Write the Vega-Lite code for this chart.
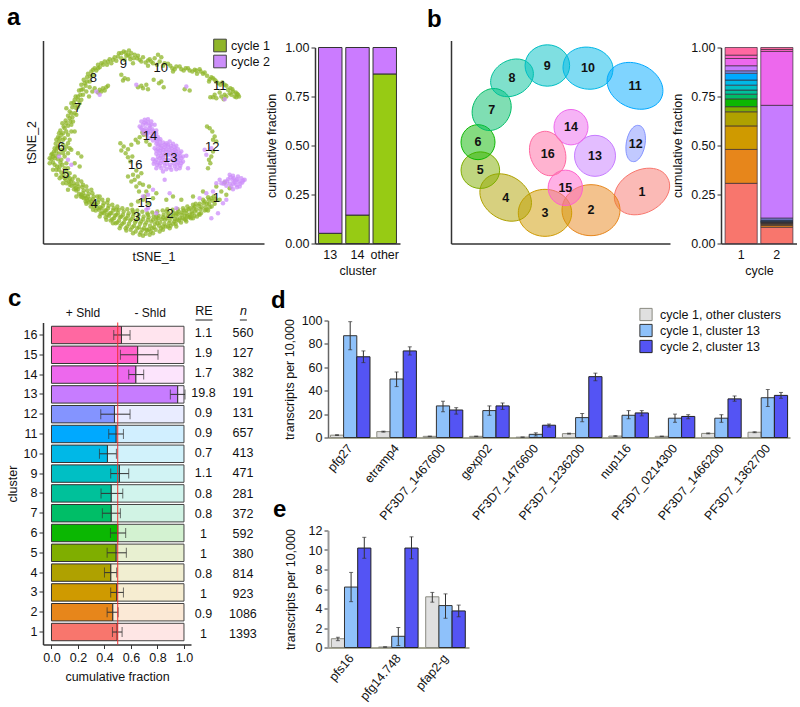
{"$schema":"https://vega.github.io/schema/vega-lite/v6.json","padding":{"left":6,"top":5.5,"right":0,"bottom":0},"bounds":"flush","spacing":280,
"config":{"font":"Liberation Sans","view":{"stroke":null},"axis":{"grid":false,"labelFontSize":12.5,"titleFontSize":12.5,"titleFontWeight":"normal","labelColor":"#111","titleColor":"#111","domainColor":"#333","tickColor":"#333","domainWidth":1.5,"tickSize":4,"labelPadding":2,"labelOverlap":false,"labelFlush":false},"title":{"fontSize":24,"fontWeight":"bold","anchor":"start","frame":"group","color":"#000"},"range":{"category":["#F8766D","#E7861B","#CF9A00","#AFA100","#7FAE00","#0BB702","#00BE67","#00C19A","#00BFC4","#00B8E7","#00A9FF","#8494FF","#C77CFF","#ED68ED","#FF61CC","#FF68A1"]}},
"vconcat":[
{"hconcat":[
{"width":221,"height":203,"title":{"text":"a","dx":-36,"offset":9},
"data":{"values":[{"x":642,"y":590,"c":1},{"x":638,"y":603,"c":1},{"x":645,"y":612,"c":1},{"x":636,"y":620,"c":1},{"x":648,"y":598,"c":1},{"x":628,"y":600,"c":1},{"x":622,"y":612,"c":1},{"x":630,"y":622,"c":1},{"x":620,"y":630,"c":1},{"x":625,"y":592,"c":1},{"x":612,"y":610,"c":1},{"x":606,"y":622,"c":1},{"x":615,"y":632,"c":1},{"x":604,"y":640,"c":1},{"x":610,"y":600,"c":1},{"x":597,"y":618,"c":1},{"x":590,"y":630,"c":1},{"x":598,"y":642,"c":1},{"x":588,"y":612,"c":1},{"x":592,"y":650,"c":1},{"x":582,"y":625,"c":1},{"x":576,"y":636,"c":1},{"x":584,"y":648,"c":1},{"x":574,"y":655,"c":1},{"x":580,"y":615,"c":1},{"x":578,"y":642,"c":1},{"x":567,"y":628,"c":1},{"x":560,"y":640,"c":1},{"x":568,"y":652,"c":1},{"x":558,"y":660,"c":1},{"x":563,"y":620,"c":1},{"x":570,"y":645,"c":1},{"x":552,"y":632,"c":1},{"x":546,"y":645,"c":1},{"x":554,"y":658,"c":1},{"x":544,"y":668,"c":1},{"x":550,"y":625,"c":1},{"x":556,"y":648,"c":1},{"x":537,"y":635,"c":1},{"x":530,"y":648,"c":1},{"x":538,"y":662,"c":1},{"x":528,"y":672,"c":1},{"x":534,"y":628,"c":1},{"x":541,"y":655,"c":1},{"x":522,"y":640,"c":1},{"x":515,"y":652,"c":1},{"x":524,"y":665,"c":1},{"x":513,"y":678,"c":1},{"x":519,"y":630,"c":1},{"x":526,"y":658,"c":1},{"x":507,"y":640,"c":1},{"x":500,"y":655,"c":1},{"x":508,"y":670,"c":1},{"x":498,"y":680,"c":1},{"x":503,"y":628,"c":1},{"x":510,"y":662,"c":1},{"x":492,"y":645,"c":1},{"x":486,"y":658,"c":1},{"x":494,"y":672,"c":1},{"x":484,"y":685,"c":1},{"x":489,"y":632,"c":1},{"x":496,"y":660,"c":1},{"x":477,"y":648,"c":1},{"x":470,"y":660,"c":1},{"x":478,"y":678,"c":1},{"x":468,"y":690,"c":1},{"x":473,"y":635,"c":1},{"x":481,"y":668,"c":1},{"x":462,"y":650,"c":1},{"x":455,"y":665,"c":1},{"x":463,"y":682,"c":1},{"x":453,"y":695,"c":1},{"x":458,"y":638,"c":1},{"x":466,"y":672,"c":1},{"x":447,"y":652,"c":1},{"x":440,"y":668,"c":1},{"x":448,"y":688,"c":1},{"x":438,"y":702,"c":1},{"x":443,"y":640,"c":1},{"x":451,"y":678,"c":1},{"x":432,"y":650,"c":1},{"x":425,"y":665,"c":1},{"x":433,"y":685,"c":1},{"x":423,"y":698,"c":1},{"x":428,"y":636,"c":1},{"x":436,"y":675,"c":1},{"x":417,"y":645,"c":1},{"x":410,"y":662,"c":1},{"x":418,"y":682,"c":1},{"x":408,"y":695,"c":1},{"x":413,"y":632,"c":1},{"x":421,"y":672,"c":1},{"x":402,"y":642,"c":1},{"x":395,"y":658,"c":1},{"x":403,"y":678,"c":1},{"x":393,"y":690,"c":1},{"x":398,"y":630,"c":1},{"x":406,"y":668,"c":1},{"x":387,"y":640,"c":1},{"x":380,"y":655,"c":1},{"x":388,"y":672,"c":1},{"x":378,"y":685,"c":1},{"x":383,"y":628,"c":1},{"x":391,"y":662,"c":1},{"x":372,"y":635,"c":1},{"x":365,"y":650,"c":1},{"x":373,"y":668,"c":1},{"x":363,"y":678,"c":1},{"x":368,"y":625,"c":1},{"x":376,"y":658,"c":1},{"x":357,"y":630,"c":1},{"x":350,"y":645,"c":1},{"x":358,"y":662,"c":1},{"x":348,"y":670,"c":1},{"x":353,"y":620,"c":1},{"x":361,"y":652,"c":1},{"x":342,"y":625,"c":1},{"x":335,"y":640,"c":1},{"x":343,"y":655,"c":1},{"x":333,"y":662,"c":1},{"x":338,"y":615,"c":1},{"x":346,"y":648,"c":1},{"x":327,"y":618,"c":1},{"x":320,"y":632,"c":1},{"x":328,"y":648,"c":1},{"x":318,"y":652,"c":1},{"x":323,"y":608,"c":1},{"x":331,"y":640,"c":1},{"x":312,"y":610,"c":1},{"x":305,"y":625,"c":1},{"x":313,"y":640,"c":1},{"x":303,"y":642,"c":1},{"x":308,"y":600,"c":1},{"x":316,"y":632,"c":1},{"x":297,"y":600,"c":1},{"x":290,"y":615,"c":1},{"x":298,"y":630,"c":1},{"x":288,"y":632,"c":1},{"x":293,"y":590,"c":1},{"x":301,"y":622,"c":1},{"x":282,"y":590,"c":1},{"x":275,"y":605,"c":1},{"x":283,"y":620,"c":1},{"x":273,"y":620,"c":1},{"x":278,"y":580,"c":1},{"x":286,"y":612,"c":1},{"x":267,"y":582,"c":1},{"x":260,"y":595,"c":1},{"x":268,"y":608,"c":1},{"x":258,"y":605,"c":1},{"x":263,"y":572,"c":1},{"x":271,"y":598,"c":1},{"x":252,"y":572,"c":1},{"x":245,"y":585,"c":1},{"x":253,"y":595,"c":1},{"x":243,"y":590,"c":1},{"x":248,"y":562,"c":1},{"x":256,"y":588,"c":1},{"x":237,"y":560,"c":1},{"x":230,"y":572,"c":1},{"x":238,"y":582,"c":1},{"x":228,"y":565,"c":1},{"x":233,"y":552,"c":1},{"x":222,"y":550,"c":1},{"x":215,"y":558,"c":1},{"x":223,"y":568,"c":1},{"x":213,"y":545,"c":1},{"x":218,"y":538,"c":1},{"x":205,"y":530,"c":1},{"x":198,"y":540,"c":1},{"x":208,"y":545,"c":1},{"x":192,"y":525,"c":1},{"x":200,"y":515,"c":1},{"x":185,"y":518,"c":1},{"x":195,"y":505,"c":1},{"x":178,"y":510,"c":1},{"x":188,"y":495,"c":1},{"x":172,"y":500,"c":1},{"x":182,"y":488,"c":1},{"x":165,"y":495,"c":1},{"x":175,"y":478,"c":1},{"x":160,"y":488,"c":1},{"x":168,"y":468,"c":1},{"x":155,"y":478,"c":1},{"x":178,"y":462,"c":1},{"x":163,"y":455,"c":1},{"x":172,"y":445,"c":1},{"x":158,"y":462,"c":1},{"x":185,"y":450,"c":1},{"x":168,"y":432,"c":1},{"x":178,"y":425,"c":1},{"x":190,"y":435,"c":1},{"x":175,"y":412,"c":1},{"x":185,"y":405,"c":1},{"x":170,"y":420,"c":1},{"x":195,"y":415,"c":1},{"x":182,"y":392,"c":1},{"x":192,"y":380,"c":1},{"x":200,"y":395,"c":1},{"x":188,"y":370,"c":1},{"x":205,"y":378,"c":1},{"x":198,"y":362,"c":1},{"x":212,"y":365,"c":1},{"x":205,"y":348,"c":1},{"x":218,"y":352,"c":1},{"x":210,"y":335,"c":1},{"x":225,"y":340,"c":1},{"x":200,"y":325,"c":1},{"x":218,"y":322,"c":1},{"x":230,"y":325,"c":1},{"x":222,"y":308,"c":1},{"x":235,"y":300,"c":1},{"x":228,"y":290,"c":1},{"x":242,"y":285,"c":1},{"x":238,"y":272,"c":1},{"x":250,"y":268,"c":1},{"x":245,"y":255,"c":1},{"x":258,"y":258,"c":1},{"x":252,"y":240,"c":1},{"x":262,"y":232,"c":1},{"x":270,"y":245,"c":1},{"x":265,"y":222,"c":1},{"x":275,"y":215,"c":1},{"x":280,"y":225,"c":1},{"x":285,"y":205,"c":1},{"x":295,"y":195,"c":1},{"x":290,"y":212,"c":1},{"x":305,"y":190,"c":1},{"x":300,"y":202,"c":1},{"x":315,"y":185,"c":1},{"x":322,"y":195,"c":1},{"x":330,"y":178,"c":1},{"x":335,"y":190,"c":1},{"x":345,"y":172,"c":1},{"x":350,"y":183,"c":1},{"x":358,"y":160,"c":1},{"x":365,"y":175,"c":1},{"x":372,"y":155,"c":1},{"x":380,"y":168,"c":1},{"x":388,"y":152,"c":1},{"x":395,"y":160,"c":1},{"x":392,"y":178,"c":1},{"x":405,"y":165,"c":1},{"x":412,"y":175,"c":1},{"x":400,"y":190,"c":1},{"x":420,"y":180,"c":1},{"x":430,"y":172,"c":1},{"x":438,"y":188,"c":1},{"x":450,"y":178,"c":1},{"x":460,"y":190,"c":1},{"x":445,"y":198,"c":1},{"x":475,"y":165,"c":1},{"x":485,"y":172,"c":1},{"x":472,"y":195,"c":1},{"x":490,"y":198,"c":1},{"x":505,"y":192,"c":1},{"x":518,"y":205,"c":1},{"x":530,"y":200,"c":1},{"x":545,"y":208,"c":1},{"x":558,"y":205,"c":1},{"x":570,"y":212,"c":1},{"x":585,"y":210,"c":1},{"x":600,"y":208,"c":1},{"x":592,"y":222,"c":1},{"x":610,"y":222,"c":1},{"x":622,"y":228,"c":1},{"x":635,"y":232,"c":1},{"x":628,"y":245,"c":1},{"x":645,"y":240,"c":1},{"x":655,"y":250,"c":1},{"x":668,"y":248,"c":1},{"x":680,"y":258,"c":1},{"x":692,"y":265,"c":1},{"x":700,"y":275,"c":1},{"x":712,"y":282,"c":1},{"x":718,"y":290,"c":1},{"x":705,"y":290,"c":1},{"x":690,"y":280,"c":1},{"x":675,"y":285,"c":1},{"x":660,"y":278,"c":1},{"x":645,"y":285,"c":1},{"x":632,"y":292,"c":1},{"x":650,"y":295,"c":1},{"x":672,"y":298,"c":1},{"x":300,"y":270,"c":1},{"x":310,"y":265,"c":1},{"x":320,"y":262,"c":1},{"x":295,"y":278,"c":1},{"x":305,"y":275,"c":1},{"x":325,"y":258,"c":1},{"x":315,"y":272,"c":1},{"x":285,"y":265,"c":1},{"x":278,"y":275,"c":1},{"x":268,"y":290,"c":1},{"x":365,"y":225,"c":1},{"x":375,"y":235,"c":1},{"x":385,"y":238,"c":1},{"x":370,"y":242,"c":1},{"x":415,"y":262,"c":1},{"x":430,"y":265,"c":1},{"x":445,"y":268,"c":1},{"x":425,"y":258,"c":1},{"x":440,"y":255,"c":1},{"x":462,"y":240,"c":1},{"x":478,"y":250,"c":1},{"x":492,"y":262,"c":1},{"x":485,"y":245,"c":1},{"x":555,"y":268,"c":1},{"x":570,"y":272,"c":1},{"x":520,"y":215,"c":1},{"x":235,"y":460,"c":1},{"x":245,"y":470,"c":1},{"x":225,"y":490,"c":1},{"x":215,"y":450,"c":1},{"x":240,"y":500,"c":1},{"x":150,"y":490,"c":1},{"x":160,"y":510,"c":1},{"x":170,"y":525,"c":1},{"x":180,"y":535,"c":1},{"x":190,"y":550,"c":1},{"x":205,"y":570,"c":1},{"x":230,"y":590,"c":1},{"x":210,"y":445,"c":1},{"x":225,"y":395,"c":1},{"x":362,"y":430,"c":1},{"x":372,"y":440,"c":1},{"x":365,"y":452,"c":1},{"x":378,"y":460,"c":1},{"x":385,"y":472,"c":1},{"x":392,"y":485,"c":1},{"x":398,"y":470,"c":1},{"x":410,"y":512,"c":1},{"x":400,"y":525,"c":1},{"x":415,"y":530,"c":1},{"x":425,"y":520,"c":1},{"x":405,"y":540,"c":1},{"x":395,"y":545,"c":1},{"x":420,"y":550,"c":1},{"x":410,"y":560,"c":1},{"x":430,"y":555,"c":1},{"x":440,"y":575,"c":1},{"x":418,"y":575,"c":1},{"x":435,"y":590,"c":1},{"x":448,"y":560,"c":1},{"x":385,"y":530,"c":1},{"x":408,"y":420,"c":1},{"x":420,"y":412,"c":1},{"x":432,"y":405,"c":1},{"x":415,"y":428,"c":1},{"x":395,"y":435,"c":1},{"x":385,"y":448,"c":1},{"x":440,"y":425,"c":1},{"x":450,"y":435,"c":1},{"x":428,"y":398,"c":1},{"x":622,"y":380,"c":1},{"x":630,"y":385,"c":1},{"x":638,"y":395,"c":1},{"x":645,"y":410,"c":1},{"x":640,"y":420,"c":1},{"x":650,"y":425,"c":1},{"x":635,"y":470,"c":1},{"x":628,"y":480,"c":1},{"x":632,"y":490,"c":1},{"x":625,"y":505,"c":1},{"x":640,"y":455,"c":1},{"x":470,"y":580,"c":1},{"x":460,"y":595,"c":1},{"x":445,"y":610,"c":1},{"x":430,"y":600,"c":1},{"x":415,"y":605,"c":1},{"x":395,"y":615,"c":1},{"x":500,"y":600,"c":1},{"x":520,"y":590,"c":1},{"x":545,"y":600,"c":1},{"x":580,"y":590,"c":1},{"x":610,"y":575,"c":1},{"x":650,"y":560,"c":1},{"x":675,"y":548,"c":1},{"x":665,"y":575,"c":1},{"x":690,"y":565,"c":1},{"x":680,"y":585,"c":1},{"x":660,"y":600,"c":1},{"x":635,"y":595,"c":1},{"x":628,"y":612,"c":1},{"x":615,"y":605,"c":1},{"x":618,"y":622,"c":1},{"x":600,"y":612,"c":1},{"x":602,"y":628,"c":1},{"x":585,"y":620,"c":1},{"x":586,"y":635,"c":1},{"x":572,"y":625,"c":1},{"x":572,"y":650,"c":1},{"x":560,"y":632,"c":1},{"x":562,"y":650,"c":1},{"x":548,"y":638,"c":1},{"x":548,"y":655,"c":1},{"x":535,"y":642,"c":1},{"x":533,"y":660,"c":1},{"x":520,"y":648,"c":1},{"x":520,"y":672,"c":1},{"x":505,"y":648,"c":1},{"x":505,"y":680,"c":1},{"x":490,"y":652,"c":1},{"x":490,"y":680,"c":1},{"x":475,"y":655,"c":1},{"x":473,"y":670,"c":1},{"x":460,"y":660,"c":1},{"x":458,"y":685,"c":1},{"x":445,"y":660,"c":1},{"x":443,"y":692,"c":1},{"x":430,"y":658,"c":1},{"x":428,"y":690,"c":1},{"x":415,"y":655,"c":1},{"x":413,"y":685,"c":1},{"x":400,"y":650,"c":1},{"x":398,"y":682,"c":1},{"x":385,"y":648,"c":1},{"x":383,"y":680,"c":1},{"x":370,"y":645,"c":1},{"x":368,"y":672,"c":1},{"x":355,"y":640,"c":1},{"x":353,"y":668,"c":1},{"x":340,"y":632,"c":1},{"x":338,"y":658,"c":1},{"x":325,"y":625,"c":1},{"x":323,"y":645,"c":1},{"x":310,"y":618,"c":1},{"x":308,"y":638,"c":1},{"x":295,"y":608,"c":1},{"x":293,"y":625,"c":1},{"x":280,"y":598,"c":1},{"x":278,"y":612,"c":1},{"x":265,"y":590,"c":1},{"x":263,"y":602,"c":1},{"x":250,"y":580,"c":1},{"x":248,"y":592,"c":1},{"x":235,"y":568,"c":1},{"x":225,"y":558,"c":1},{"x":210,"y":535,"c":1},{"x":480,"y":695,"c":1},{"x":460,"y":700,"c":1},{"x":440,"y":690,"c":1},{"x":420,"y":705,"c":1},{"x":400,"y":700,"c":1},{"x":430,"y":708,"c":1},{"x":450,"y":705,"c":1},{"x":490,"y":690,"c":1},{"x":510,"y":685,"c":1},{"x":530,"y":680,"c":1},{"x":380,"y":692,"c":1},{"x":360,"y":685,"c":1},{"x":340,"y":670,"c":1},{"x":320,"y":660,"c":1},{"x":560,"y":665,"c":1},{"x":580,"y":655,"c":1},{"x":600,"y":645,"c":1},{"x":625,"y":632,"c":1},{"x":300,"y":650,"c":1},{"x":280,"y":630,"c":1},{"x":260,"y":612,"c":1},{"x":445,"y":645,"c":1},{"x":470,"y":650,"c":1},{"x":500,"y":635,"c":1},{"x":530,"y":640,"c":1},{"x":400,"y":635,"c":1},{"x":350,"y":630,"c":1},{"x":325,"y":600,"c":1},{"x":300,"y":590,"c":1},{"x":275,"y":570,"c":1},{"x":250,"y":555,"c":1},{"x":170,"y":510,"c":1},{"x":180,"y":500,"c":1},{"x":165,"y":475,"c":1},{"x":170,"y":455,"c":1},{"x":160,"y":470,"c":1},{"x":175,"y":440,"c":1},{"x":165,"y":445,"c":1},{"x":180,"y":415,"c":1},{"x":190,"y":400,"c":1},{"x":178,"y":400,"c":1},{"x":195,"y":385,"c":1},{"x":210,"y":355,"c":1},{"x":200,"y":370,"c":1},{"x":215,"y":340,"c":1},{"x":225,"y":315,"c":1},{"x":215,"y":310,"c":1},{"x":235,"y":290,"c":1},{"x":225,"y":300,"c":1},{"x":245,"y":270,"c":1},{"x":255,"y":250,"c":1},{"x":262,"y":245,"c":1},{"x":272,"y":230,"c":1},{"x":280,"y":210,"c":1},{"x":295,"y":205,"c":1},{"x":310,"y":195,"c":1},{"x":325,"y":185,"c":1},{"x":340,"y":180,"c":1},{"x":355,"y":170,"c":1},{"x":365,"y":160,"c":1},{"x":378,"y":158,"c":1},{"x":385,"y":165,"c":1},{"x":375,"y":180,"c":1},{"x":390,"y":170,"c":1},{"x":402,"y":175,"c":1},{"x":415,"y":168,"c":1},{"x":425,"y":185,"c":1},{"x":445,"y":182,"c":1},{"x":455,"y":185,"c":1},{"x":465,"y":175,"c":1},{"x":480,"y":185,"c":1},{"x":495,"y":190,"c":1},{"x":512,"y":198,"c":1},{"x":525,"y":208,"c":1},{"x":540,"y":200,"c":1},{"x":552,"y":212,"c":1},{"x":565,"y":205,"c":1},{"x":578,"y":215,"c":1},{"x":590,"y":212,"c":1},{"x":603,"y":215,"c":1},{"x":615,"y":218,"c":1},{"x":630,"y":238,"c":1},{"x":640,"y":235,"c":1},{"x":650,"y":245,"c":1},{"x":662,"y":255,"c":1},{"x":675,"y":255,"c":1},{"x":685,"y":270,"c":1},{"x":698,"y":268,"c":1},{"x":708,"y":278,"c":1},{"x":715,"y":285,"c":1},{"x":695,"y":285,"c":1},{"x":680,"y":290,"c":1},{"x":665,"y":290,"c":1},{"x":640,"y":292,"c":1},{"x":710,"y":292,"c":1},{"x":185,"y":530,"c":1},{"x":195,"y":535,"c":1},{"x":210,"y":555,"c":1},{"x":200,"y":550,"c":1},{"x":195,"y":470,"c":1},{"x":190,"y":460,"c":1},{"x":155,"y":465,"c":1},{"x":150,"y":475,"c":1},{"x":205,"y":405,"c":1},{"x":215,"y":395,"c":1},{"x":200,"y":440,"c":1},{"x":205,"y":460,"c":1},{"x":195,"y":450,"c":1},{"x":210,"y":420,"c":1},{"x":205,"y":430,"c":1},{"x":190,"y":420,"c":1},{"x":215,"y":375,"c":1},{"x":220,"y":365,"c":1},{"x":230,"y":345,"c":1},{"x":240,"y":310,"c":1},{"x":245,"y":300,"c":1},{"x":235,"y":320,"c":1},{"x":250,"y":285,"c":1},{"x":260,"y":275,"c":1},{"x":270,"y":262,"c":1},{"x":185,"y":480,"c":1},{"x":200,"y":490,"c":1},{"x":205,"y":505,"c":1},{"x":210,"y":520,"c":1},{"x":225,"y":530,"c":1},{"x":235,"y":540,"c":1},{"x":245,"y":545,"c":1},{"x":260,"y":560,"c":1},{"x":425,"y":365,"c":2},{"x":435,"y":360,"c":2},{"x":445,"y":358,"c":2},{"x":455,"y":365,"c":2},{"x":465,"y":375,"c":2},{"x":430,"y":375,"c":2},{"x":440,"y":372,"c":2},{"x":450,"y":378,"c":2},{"x":420,"y":380,"c":2},{"x":428,"y":390,"c":2},{"x":438,"y":385,"c":2},{"x":448,"y":392,"c":2},{"x":458,"y":388,"c":2},{"x":470,"y":392,"c":2},{"x":432,"y":400,"c":2},{"x":442,"y":405,"c":2},{"x":455,"y":402,"c":2},{"x":465,"y":410,"c":2},{"x":475,"y":412,"c":2},{"x":450,"y":415,"c":2},{"x":460,"y":422,"c":2},{"x":472,"y":425,"c":2},{"x":482,"y":418,"c":2},{"x":470,"y":432,"c":2},{"x":480,"y":435,"c":2},{"x":490,"y":428,"c":2},{"x":500,"y":430,"c":2},{"x":510,"y":425,"c":2},{"x":520,"y":432,"c":2},{"x":530,"y":438,"c":2},{"x":465,"y":445,"c":2},{"x":475,"y":448,"c":2},{"x":485,"y":445,"c":2},{"x":495,"y":442,"c":2},{"x":505,"y":440,"c":2},{"x":515,"y":445,"c":2},{"x":525,"y":450,"c":2},{"x":535,"y":448,"c":2},{"x":545,"y":455,"c":2},{"x":470,"y":462,"c":2},{"x":480,"y":460,"c":2},{"x":490,"y":458,"c":2},{"x":500,"y":455,"c":2},{"x":510,"y":458,"c":2},{"x":520,"y":462,"c":2},{"x":530,"y":462,"c":2},{"x":540,"y":468,"c":2},{"x":550,"y":470,"c":2},{"x":460,"y":478,"c":2},{"x":470,"y":480,"c":2},{"x":480,"y":475,"c":2},{"x":490,"y":472,"c":2},{"x":530,"y":478,"c":2},{"x":540,"y":482,"c":2},{"x":550,"y":485,"c":2},{"x":462,"y":492,"c":2},{"x":472,"y":495,"c":2},{"x":482,"y":490,"c":2},{"x":492,"y":488,"c":2},{"x":502,"y":492,"c":2},{"x":512,"y":495,"c":2},{"x":522,"y":490,"c":2},{"x":532,"y":495,"c":2},{"x":542,"y":498,"c":2},{"x":470,"y":505,"c":2},{"x":485,"y":505,"c":2},{"x":500,"y":508,"c":2},{"x":515,"y":510,"c":2},{"x":530,"y":508,"c":2},{"x":560,"y":468,"c":2},{"x":565,"y":505,"c":2},{"x":495,"y":540,"c":2},{"x":735,"y":540,"c":2},{"x":725,"y":535,"c":2},{"x":715,"y":530,"c":2},{"x":700,"y":528,"c":2},{"x":690,"y":525,"c":2},{"x":728,"y":548,"c":2},{"x":718,"y":545,"c":2},{"x":708,"y":542,"c":2},{"x":698,"y":540,"c":2},{"x":685,"y":538,"c":2},{"x":675,"y":545,"c":2},{"x":720,"y":560,"c":2},{"x":710,"y":555,"c":2},{"x":700,"y":552,"c":2},{"x":690,"y":552,"c":2},{"x":680,"y":558,"c":2},{"x":665,"y":550,"c":2},{"x":700,"y":568,"c":2},{"x":660,"y":540,"c":2},{"x":650,"y":550,"c":2},{"x":680,"y":600,"c":2},{"x":670,"y":610,"c":2},{"x":640,"y":575,"c":2},{"x":620,"y":580,"c":2},{"x":600,"y":595,"c":2},{"x":510,"y":580,"c":2},{"x":430,"y":590,"c":2},{"x":445,"y":585,"c":2},{"x":460,"y":570,"c":2},{"x":620,"y":465,"c":2},{"x":615,"y":450,"c":2},{"x":635,"y":445,"c":2},{"x":300,"y":285,"c":2},{"x":290,"y":275,"c":2},{"x":205,"y":480,"c":2},{"x":215,"y":495,"c":2},{"x":178,"y":470,"c":2},{"x":445,"y":625,"c":2},{"x":470,"y":640,"c":2},{"x":655,"y":640,"c":2},{"x":635,"y":655,"c":2},{"x":410,"y":255,"c":2},{"x":675,"y":298,"c":2},{"x":560,"y":260,"c":2},{"x":440,"y":630,"c":2},{"x":530,"y":625,"c":2},{"x":435,"y":368,"c":2},{"x":445,"y":368,"c":2},{"x":455,"y":375,"c":2},{"x":425,"y":385,"c":2},{"x":435,"y":393,"c":2},{"x":445,"y":398,"c":2},{"x":460,"y":395,"c":2},{"x":470,"y":402,"c":2},{"x":440,"y":395,"c":2},{"x":450,"y":385,"c":2},{"x":460,"y":410,"c":2},{"x":470,"y":418,"c":2},{"x":480,"y":425,"c":2},{"x":475,"y":438,"c":2},{"x":485,"y":438,"c":2},{"x":495,"y":435,"c":2},{"x":505,"y":435,"c":2},{"x":515,"y":438,"c":2},{"x":525,"y":442,"c":2},{"x":470,"y":452,"c":2},{"x":480,"y":452,"c":2},{"x":490,"y":450,"c":2},{"x":500,"y":448,"c":2},{"x":510,"y":450,"c":2},{"x":520,"y":455,"c":2},{"x":530,"y":455,"c":2},{"x":540,"y":460,"c":2},{"x":475,"y":470,"c":2},{"x":485,"y":468,"c":2},{"x":495,"y":465,"c":2},{"x":505,"y":465,"c":2},{"x":515,"y":468,"c":2},{"x":525,"y":470,"c":2},{"x":535,"y":472,"c":2},{"x":545,"y":475,"c":2},{"x":465,"y":485,"c":2},{"x":475,"y":488,"c":2},{"x":485,"y":482,"c":2},{"x":495,"y":480,"c":2},{"x":505,"y":480,"c":2},{"x":515,"y":480,"c":2},{"x":525,"y":482,"c":2},{"x":535,"y":488,"c":2},{"x":545,"y":490,"c":2},{"x":480,"y":498,"c":2},{"x":495,"y":498,"c":2},{"x":510,"y":502,"c":2},{"x":525,"y":500,"c":2},{"x":540,"y":505,"c":2},{"x":490,"y":515,"c":2},{"x":730,"y":542,"c":2},{"x":722,"y":552,"c":2},{"x":712,"y":538,"c":2},{"x":702,"y":535,"c":2},{"x":692,"y":532,"c":2},{"x":682,"y":545,"c":2},{"x":672,"y":552,"c":2},{"x":712,"y":562,"c":2},{"x":695,"y":560,"c":2},{"x":705,"y":548,"c":2}]},
"layer":[
{"mark":{"type":"circle","size":20,"opacity":0.75},
"encoding":{"x":{"field":"x","type":"quantitative","scale":{"domain":[130,793],"nice":false,"zero":false},"axis":{"title":"tSNE_1","labels":false,"ticks":false,"titlePadding":7}},
"y":{"field":"y","type":"quantitative","scale":{"domain":[731,122],"nice":false,"zero":false},"axis":{"title":"tSNE_2","labels":false,"ticks":false,"titlePadding":5}},
"color":{"field":"c","type":"nominal","scale":{"domain":[1,2],"range":["#8FB52A","#CC8EFA"]},"legend":{"orient":"none","legendX":170,"legendY":-2,"title":null,"symbolType":"square","symbolSize":160,"symbolOpacity":1,"symbolStrokeColor":"#444","symbolStrokeWidth":1,"labelFontSize":12.5,"labelColor":"#111","rowPadding":-3,"labelExpr":"'cycle ' + datum.label"}}}},
{"data":{"values":[{"k":"1","x":650,"y":595},{"k":"2","x":511,"y":642},{"k":"3","x":411,"y":652},{"k":"4","x":283,"y":613},{"k":"5","x":198,"y":522},{"k":"6","x":184,"y":441},{"k":"7","x":234,"y":323},{"k":"8","x":281,"y":235},{"k":"9","x":371,"y":193},{"k":"10","x":483,"y":204},{"k":"11","x":660,"y":258},{"k":"12","x":638,"y":441},{"k":"13","x":512,"y":473},{"k":"14","x":451,"y":408},{"k":"15","x":435,"y":610},{"k":"16","x":407,"y":494}]},
"mark":{"type":"text","fontSize":13,"color":"#111"},
"encoding":{"x":{"field":"x","type":"quantitative"},"y":{"field":"y","type":"quantitative"},"text":{"field":"k"}}}
]},
{"width":85,"height":203,
"data":{"values":[{"g":"13","c":"cycle 1","v":0.052},{"g":"13","c":"cycle 2","v":0.948},{"g":"14","c":"cycle 1","v":0.145},{"g":"14","c":"cycle 2","v":0.855},{"g":"other","c":"cycle 1","v":0.865},{"g":"other","c":"cycle 2","v":0.135}]},
"mark":{"type":"bar","stroke":"#333","strokeWidth":1},
"encoding":{"x":{"field":"g","type":"nominal","title":"cluster","scale":{"paddingInner":0.14,"paddingOuter":0.13},"axis":{"labelAngle":0,"ticks":false,"labelPadding":5,"titlePadding":3}},
"y":{"field":"v","type":"quantitative","stack":true,"title":"cumulative fraction","scale":{"domain":[0,1],"nice":false,"range":[203,7]},"axis":{"values":[0,0.25,0.5,0.75,1],"tickCount":10,"format":".2f","titlePadding":6}},
"color":{"field":"c","type":"nominal","legend":null,"scale":{"domain":["cycle 1","cycle 2"],"range":["#97CB14","#CB7BFF"]}},
"order":{"field":"c","type":"nominal"}}},
{"width":219,"height":203,"title":{"text":"b","dx":-24,"offset":9},
"data":{"values":[{"cluster":1,"x":675,"y":575},{"cluster":2,"x":522,"y":631},{"cluster":3,"x":384,"y":639},{"cluster":4,"x":266,"y":593},{"cluster":5,"x":190,"y":511},{"cluster":6,"x":183,"y":427},{"cluster":7,"x":224,"y":329},{"cluster":8,"x":285,"y":234},{"cluster":9,"x":391,"y":197},{"cluster":10,"x":513,"y":205},{"cluster":11,"x":654,"y":258},{"cluster":12,"x":656,"y":431},{"cluster":13,"x":534,"y":468},{"cluster":14,"x":462,"y":382},{"cluster":15,"x":445,"y":564},{"cluster":16,"x":392,"y":461}]},
"layer":[
{"mark":{"type":"point","filled":true,"fillOpacity":0.5,"strokeOpacity":1,"strokeWidth":1,"size":4},
"encoding":{"x":{"field":"x","type":"quantitative","scale":{"domain":[102,759],"nice":false,"zero":false},"axis":{"title":null,"labels":false,"ticks":false}},
"y":{"field":"y","type":"quantitative","scale":{"domain":[731,122],"nice":false,"zero":false},"axis":{"title":null,"labels":false,"ticks":false}},
"fill":{"field":"cluster","type":"nominal","legend":null},
"stroke":{"field":"cluster","type":"nominal","legend":null},
"shape":{"field":"cluster","type":"nominal","legend":null,"scale":{"domain":[1,2,3,4,5,6,7,8,9,10,11,12,13,14,15,16],"range":["M-25.6,13.6A29,20.7,-28,1,1,25.6,-13.6A29,20.7,-28,1,1,-25.6,13.6Z","M-29,0A29,25.5,0,1,1,29,0A29,25.5,0,1,1,-29,0Z","M-26.7,0A26.7,23.5,0,1,1,26.7,0A26.7,23.5,0,1,1,-26.7,0Z","M-22.5,-15.8A27.5,21,35,1,1,22.5,15.8A27.5,21,35,1,1,-22.5,-15.8Z","M-19.3,0A19.3,18.3,0,1,1,19.3,0A19.3,18.3,0,1,1,-19.3,0Z","M-17,0A17,17.5,0,1,1,17,0A17,17.5,0,1,1,-17,0Z","M-10.75,18.6A21.5,18,-60,1,1,10.75,-18.6A21.5,18,-60,1,1,-10.75,18.6Z","M-19.5,11.25A22.5,17.5,-30,1,1,19.5,-11.25A22.5,17.5,-30,1,1,-19.5,11.25Z","M-22.3,0A22.3,20.7,0,1,1,22.3,0A22.3,20.7,0,1,1,-22.3,0Z","M-24.6,-4.3A25,20,10,1,1,24.6,4.3A25,20,10,1,1,-24.6,-4.3Z","M-26.3,-12.3A29,22,25,1,1,26.3,12.3A29,22,25,1,1,-26.3,-12.3Z","M-3.2,18A18.3,9,-80,1,1,3.2,-18A18.3,9,-80,1,1,-3.2,18Z","M-20.5,0A20.5,20.5,0,1,1,20.5,0A20.5,20.5,0,1,1,-20.5,0Z","M-17,0A17,17.7,0,1,1,17,0A17,17.7,0,1,1,-17,0Z","M-17.2,0A17.2,17.7,0,1,1,17.2,0A17.2,17.7,0,1,1,-17.2,0Z","M-7.7,-21.1A22.5,16.5,70,1,1,7.7,21.1A22.5,16.5,70,1,1,-7.7,-21.1Z"]}}}},
{"mark":{"type":"text","fontSize":12.5,"fontWeight":"bold","color":"#111"},
"encoding":{"x":{"field":"x","type":"quantitative"},"y":{"field":"y","type":"quantitative"},"text":{"field":"cluster"}}}
]},
{"width":76,"height":203,
"data":{"values":[{"cycle":"1","cluster":1,"v":0.307},{"cycle":"1","cluster":2,"v":0.173},{"cycle":"1","cluster":3,"v":0.12},{"cycle":"1","cluster":4,"v":0.072},{"cycle":"1","cluster":5,"v":0.026},{"cycle":"1","cluster":6,"v":0.04},{"cycle":"1","cluster":7,"v":0.024},{"cycle":"1","cluster":8,"v":0.021},{"cycle":"1","cluster":9,"v":0.025},{"cycle":"1","cluster":10,"v":0.026},{"cycle":"1","cluster":11,"v":0.035},{"cycle":"1","cluster":12,"v":0.012},{"cycle":"1","cluster":13,"v":0.026},{"cycle":"1","cluster":14,"v":0.037},{"cycle":"1","cluster":15,"v":0.017},{"cycle":"1","cluster":16,"v":0.039},{"cycle":"2","cluster":1,"v":0.083},{"cycle":"2","cluster":2,"v":0.009},{"cycle":"2","cluster":3,"v":0.005},{"cycle":"2","cluster":4,"v":0.005},{"cycle":"2","cluster":5,"v":0.003},{"cycle":"2","cluster":6,"v":0.003},{"cycle":"2","cluster":7,"v":0.002},{"cycle":"2","cluster":8,"v":0.002},{"cycle":"2","cluster":9,"v":0.002},{"cycle":"2","cluster":10,"v":0.002},{"cycle":"2","cluster":11,"v":0.004},{"cycle":"2","cluster":12,"v":0.01},{"cycle":"2","cluster":13,"v":0.575},{"cycle":"2","cluster":14,"v":0.275},{"cycle":"2","cluster":15,"v":0.01},{"cycle":"2","cluster":16,"v":0.01}]},
"mark":{"type":"bar","stroke":"#3a2a3a","strokeWidth":0.7},
"encoding":{"x":{"field":"cycle","type":"nominal","title":"cycle","scale":{"paddingInner":0.1,"paddingOuter":0.115},"axis":{"labelAngle":0,"ticks":false,"labelPadding":5,"titlePadding":3}},
"y":{"field":"v","type":"quantitative","stack":true,"title":"cumulative fraction","scale":{"domain":[0,1],"nice":false,"range":[203,7]},"axis":{"values":[0,0.25,0.5,0.75,1],"tickCount":10,"format":".2f","titlePadding":6}},
"color":{"field":"cluster","type":"nominal","legend":null},
"order":{"field":"cluster","type":"quantitative"}}}
],"bounds":"flush","spacing":51,"resolve":{"scale":{"color":"independent"}}},
{"hconcat":[
{"hconcat":[
{"hconcat":[
{"width":148,"height":324,"title":{"text":"c","dx":-35,"offset":-4},
"data":{"values":[{"cluster":16,"f":0.528,"lo":0.47,"hi":0.593,"one":1},{"cluster":15,"f":0.65,"lo":0.52,"hi":0.804,"one":1},{"cluster":14,"f":0.636,"lo":0.583,"hi":0.696,"one":1},{"cluster":13,"f":0.952,"lo":0.897,"hi":1.008,"one":1},{"cluster":12,"f":0.475,"lo":0.372,"hi":0.593,"one":1},{"cluster":11,"f":0.487,"lo":0.432,"hi":0.543,"one":1},{"cluster":10,"f":0.422,"lo":0.362,"hi":0.49,"one":1},{"cluster":9,"f":0.513,"lo":0.447,"hi":0.583,"one":1},{"cluster":8,"f":0.45,"lo":0.374,"hi":0.538,"one":1},{"cluster":7,"f":0.45,"lo":0.384,"hi":0.52,"one":1},{"cluster":6,"f":0.5,"lo":0.445,"hi":0.56,"one":1},{"cluster":5,"f":0.487,"lo":0.42,"hi":0.565,"one":1},{"cluster":4,"f":0.447,"lo":0.4,"hi":0.492,"one":1},{"cluster":3,"f":0.492,"lo":0.447,"hi":0.543,"one":1},{"cluster":2,"f":0.462,"lo":0.42,"hi":0.503,"one":1},{"cluster":1,"f":0.495,"lo":0.46,"hi":0.533,"one":1}]},
"encoding":{"y":{"field":"cluster","type":"ordinal","title":"cluster","sort":"descending","scale":{"paddingInner":0.12,"paddingOuter":0.19,"range":[2,324]},"axis":{"labelAngle":0,"titlePadding":4}}},
"layer":[
{"mark":{"type":"bar","stroke":"#444","strokeWidth":1,"fillOpacity":0.18},"encoding":{"x":{"field":"f","type":"quantitative","title":"cumulative fraction","scale":{"domain":[-0.064,1.053],"nice":false,"zero":false},"axis":{"values":[0,0.2,0.4,0.6,0.8,1],"tickCount":10,"format":".1f","titlePadding":6,"labelPadding":3}},"x2":{"field":"one"},"fill":{"field":"cluster","type":"nominal","legend":null}}},
{"transform":[{"calculate":"0","as":"zero"}],"mark":{"type":"bar","stroke":"#333","strokeWidth":1},"encoding":{"x":{"field":"zero","type":"quantitative"},"x2":{"field":"f"},"fill":{"field":"cluster","type":"nominal","legend":null}}},
{"mark":{"type":"rule","color":"#333","strokeWidth":1},"encoding":{"x":{"field":"lo","type":"quantitative"},"x2":{"field":"hi"}}},
{"mark":{"type":"tick","color":"#333","thickness":1,"size":10},"encoding":{"x":{"field":"lo","type":"quantitative"}}},
{"mark":{"type":"tick","color":"#333","thickness":1,"size":10},"encoding":{"x":{"field":"hi","type":"quantitative"}}},
{"data":{"values":[{"p":0.5}]},"mark":{"type":"rule","color":"#F03030","strokeWidth":1},"encoding":{"x":{"field":"p","type":"quantitative"},"y":{"value":2},"y2":{"value":324}}},
{"data":{"values":[{"p":0.238,"t":"+ Shld"},{"p":0.745,"t":"- Shld"}]},"mark":{"type":"text","fontSize":12,"dy":-21.5,"color":"#111"},"encoding":{"x":{"field":"p","type":"quantitative"},"y":{"datum":16},"text":{"field":"t"}}}
]},
{"width":17,"height":324,
"data":{"values":[{"cluster":16,"re":"1.1"},{"cluster":15,"re":"1.9"},{"cluster":14,"re":"1.7"},{"cluster":13,"re":"19.8"},{"cluster":12,"re":"0.9"},{"cluster":11,"re":"0.9"},{"cluster":10,"re":"0.7"},{"cluster":9,"re":"1.1"},{"cluster":8,"re":"0.8"},{"cluster":7,"re":"0.8"},{"cluster":6,"re":"1"},{"cluster":5,"re":"1"},{"cluster":4,"re":"0.8"},{"cluster":3,"re":"1"},{"cluster":2,"re":"0.9"},{"cluster":1,"re":"1"}]},
"mark":{"type":"text","fontSize":12.5,"color":"#111"},
"encoding":{"x":{"datum":0.5,"type":"quantitative","scale":{"domain":[0,1]},"axis":{"orient":"top","title":"RE","labels":false,"ticks":false,"offset":1,"titlePadding":2,"domainColor":"#222","domainWidth":1}},
"y":{"field":"cluster","type":"ordinal","sort":"descending","scale":{"paddingInner":0.12,"paddingOuter":0.19,"range":[2,324]},"axis":null},
"text":{"field":"re"}}}
],"bounds":"flush","spacing":4,"resolve":{"scale":{"fill":"independent"}}},
{"width":7,"height":324,
"data":{"values":[{"cluster":16,"n":560},{"cluster":15,"n":127},{"cluster":14,"n":382},{"cluster":13,"n":191},{"cluster":12,"n":131},{"cluster":11,"n":657},{"cluster":10,"n":413},{"cluster":9,"n":471},{"cluster":8,"n":281},{"cluster":7,"n":372},{"cluster":6,"n":592},{"cluster":5,"n":380},{"cluster":4,"n":814},{"cluster":3,"n":923},{"cluster":2,"n":1086},{"cluster":1,"n":1393}]},
"mark":{"type":"text","fontSize":12.5,"color":"#111"},
"encoding":{"x":{"datum":0.5,"type":"quantitative","scale":{"domain":[0,1]},"axis":{"orient":"top","title":"n","titleFontStyle":"italic","labels":false,"ticks":false,"offset":1,"titlePadding":2,"domainColor":"#222","domainWidth":1}},
"y":{"field":"cluster","type":"ordinal","sort":"descending","scale":{"paddingInner":0.12,"paddingOuter":0.19,"range":[2,324]},"axis":null},
"text":{"field":"n","type":"quantitative"}}}
],"bounds":"flush","spacing":196.4,"resolve":{"scale":{"fill":"independent"}}},
{"vconcat":[
{"width":462,"height":117,"title":{"text":"d","dx":-57,"offset":-5},
"data":{"values":[{"g":"pfg27","s":"cycle 1, other clusters","v":2,"lo":1.7,"hi":2.4},{"g":"pfg27","s":"cycle 1, cluster 13","v":87,"lo":75,"hi":99},{"g":"pfg27","s":"cycle 2, cluster 13","v":69,"lo":64,"hi":74},{"g":"etramp4","s":"cycle 1, other clusters","v":5,"lo":4.6,"hi":5.4},{"g":"etramp4","s":"cycle 1, cluster 13","v":50,"lo":43.5,"hi":56},{"g":"etramp4","s":"cycle 2, cluster 13","v":74,"lo":70.5,"hi":77.5},{"g":"PF3D7_1467600","s":"cycle 1, other clusters","v":1,"lo":0.8,"hi":1.2},{"g":"PF3D7_1467600","s":"cycle 1, cluster 13","v":27,"lo":22,"hi":31},{"g":"PF3D7_1467600","s":"cycle 2, cluster 13","v":23.5,"lo":20,"hi":25.5},{"g":"gexp02","s":"cycle 1, other clusters","v":1,"lo":0.8,"hi":1.2},{"g":"gexp02","s":"cycle 1, cluster 13","v":23,"lo":19,"hi":27},{"g":"gexp02","s":"cycle 2, cluster 13","v":27,"lo":24,"hi":29.5},{"g":"PF3D7_1476600","s":"cycle 1, other clusters","v":0.3,"lo":0.2,"hi":0.4},{"g":"PF3D7_1476600","s":"cycle 1, cluster 13","v":2.7,"lo":1.3,"hi":4},{"g":"PF3D7_1476600","s":"cycle 2, cluster 13","v":10.5,"lo":9,"hi":11.5},{"g":"PF3D7_1236200","s":"cycle 1, other clusters","v":3.3,"lo":2.9,"hi":3.7},{"g":"PF3D7_1236200","s":"cycle 1, cluster 13","v":17,"lo":13.5,"hi":20.5},{"g":"PF3D7_1236200","s":"cycle 2, cluster 13","v":52,"lo":48.5,"hi":55},{"g":"nup116","s":"cycle 1, other clusters","v":1.2,"lo":1,"hi":1.5},{"g":"nup116","s":"cycle 1, cluster 13","v":19,"lo":16,"hi":23},{"g":"nup116","s":"cycle 2, cluster 13","v":21,"lo":18.5,"hi":23},{"g":"PF3D7_0214300","s":"cycle 1, other clusters","v":1,"lo":0.8,"hi":1.2},{"g":"PF3D7_0214300","s":"cycle 1, cluster 13","v":16.5,"lo":13,"hi":20},{"g":"PF3D7_0214300","s":"cycle 2, cluster 13","v":18,"lo":16,"hi":19.5},{"g":"PF3D7_1466200","s":"cycle 1, other clusters","v":3.5,"lo":3.1,"hi":3.9},{"g":"PF3D7_1466200","s":"cycle 1, cluster 13","v":16.5,"lo":13,"hi":19.5},{"g":"PF3D7_1466200","s":"cycle 2, cluster 13","v":33,"lo":31,"hi":35.5},{"g":"PF3D7_1362700","s":"cycle 1, other clusters","v":4.5,"lo":4.1,"hi":4.9},{"g":"PF3D7_1362700","s":"cycle 1, cluster 13","v":34,"lo":26.5,"hi":41},{"g":"PF3D7_1362700","s":"cycle 2, cluster 13","v":36,"lo":33.5,"hi":38.5}]},
"encoding":{"x":{"field":"g","type":"nominal","title":null,"sort":null,"scale":{"paddingInner":0.147,"paddingOuter":0.052},"axis":{"labelAngle":-50,"labelAlign":"right","labelBaseline":"middle","ticks":false,"labelPadding":8,"domainColor":"#8a8a70"}},
"xOffset":{"field":"s","type":"nominal","sort":null,"scale":{"domain":["cycle 1, other clusters","cycle 1, cluster 13","cycle 2, cluster 13"],"paddingInner":0,"paddingOuter":0}}},
"layer":[
{"mark":{"type":"bar","strokeWidth":1},"encoding":{"y":{"field":"v","type":"quantitative","title":"transcripts per 10,000","scale":{"domain":[0,100],"nice":false},"axis":{"values":[0,20,40,60,80,100],"tickCount":10,"domainColor":"#666","titlePadding":5}},
"fill":{"field":"s","type":"nominal","sort":null,"scale":{"domain":["cycle 1, other clusters","cycle 1, cluster 13","cycle 2, cluster 13"],"range":["#E0E0E0","#8EC1FA","#5454F4"]},"legend":{"orient":"none","legendX":311,"legendY":-13,"title":null,"symbolType":"square","symbolSize":150,"symbolStrokeColor":"#444","symbolStrokeWidth":1,"labelFontSize":12.5,"labelColor":"#111","rowPadding":-2,"labelOffset":7}},
"stroke":{"field":"s","type":"nominal","sort":null,"scale":{"domain":["cycle 1, other clusters","cycle 1, cluster 13","cycle 2, cluster 13"],"range":["#8a8a80","#333","#222"]},"legend":null}}},
{"mark":{"type":"rule","color":"#333","strokeWidth":1},"encoding":{"y":{"field":"lo","type":"quantitative"},"y2":{"field":"hi"}}},
{"mark":{"type":"tick","color":"#333","thickness":1,"size":4},"encoding":{"y":{"field":"lo","type":"quantitative"}}},
{"mark":{"type":"tick","color":"#333","thickness":1,"size":4},"encoding":{"y":{"field":"hi","type":"quantitative"}}}
]},
{"width":141,"height":117,"title":{"text":"e","dx":-55,"offset":3},
"data":{"values":[{"g":"pfs16","s":"cycle 1, other clusters","v":0.9,"lo":0.7,"hi":1.05},{"g":"pfs16","s":"cycle 1, cluster 13","v":6.2,"lo":4.7,"hi":7.7},{"g":"pfs16","s":"cycle 2, cluster 13","v":10.2,"lo":9.15,"hi":11.3},{"g":"pfg14.748","s":"cycle 1, other clusters","v":0.05,"lo":0.03,"hi":0.07},{"g":"pfg14.748","s":"cycle 1, cluster 13","v":1.15,"lo":0.2,"hi":2.05},{"g":"pfg14.748","s":"cycle 2, cluster 13","v":10.2,"lo":9.1,"hi":11.35},{"g":"pfap2-g","s":"cycle 1, other clusters","v":5.2,"lo":4.65,"hi":5.65},{"g":"pfap2-g","s":"cycle 1, cluster 13","v":4.3,"lo":3,"hi":5.5},{"g":"pfap2-g","s":"cycle 2, cluster 13","v":3.75,"lo":3.15,"hi":4.35}]},
"encoding":{"x":{"field":"g","type":"nominal","title":null,"sort":null,"scale":{"paddingInner":0.153,"paddingOuter":0.07},"axis":{"labelAngle":-50,"labelAlign":"right","labelBaseline":"middle","ticks":false,"labelPadding":8,"domainColor":"#8a8a70"}},
"xOffset":{"field":"s","type":"nominal","sort":null,"scale":{"domain":["cycle 1, other clusters","cycle 1, cluster 13","cycle 2, cluster 13"],"paddingInner":0,"paddingOuter":0}}},
"layer":[
{"mark":{"type":"bar","strokeWidth":1},"encoding":{"y":{"field":"v","type":"quantitative","title":"transcripts per 10,000","scale":{"domain":[0,12],"nice":false},"axis":{"values":[0,2,4,6,8,10,12],"tickCount":10,"domainColor":"#999","domainWidth":2,"titlePadding":11}},
"fill":{"field":"s","type":"nominal","sort":null,"scale":{"domain":["cycle 1, other clusters","cycle 1, cluster 13","cycle 2, cluster 13"],"range":["#E0E0E0","#8EC1FA","#5454F4"]},"legend":null},
"stroke":{"field":"s","type":"nominal","sort":null,"scale":{"domain":["cycle 1, other clusters","cycle 1, cluster 13","cycle 2, cluster 13"],"range":["#8a8a80","#333","#222"]},"legend":null}}},
{"mark":{"type":"rule","color":"#333","strokeWidth":1},"encoding":{"y":{"field":"lo","type":"quantitative"},"y2":{"field":"hi"}}},
{"mark":{"type":"tick","color":"#333","thickness":1,"size":4},"encoding":{"y":{"field":"lo","type":"quantitative"}}},
{"mark":{"type":"tick","color":"#333","thickness":1,"size":4},"encoding":{"y":{"field":"hi","type":"quantitative"}}}
]}
],"bounds":"flush","spacing":93,"resolve":{"scale":{"fill":"independent","stroke":"independent"}}}
],"bounds":"flush","spacing":285,"resolve":{"scale":{"fill":"independent"}}}
]}
